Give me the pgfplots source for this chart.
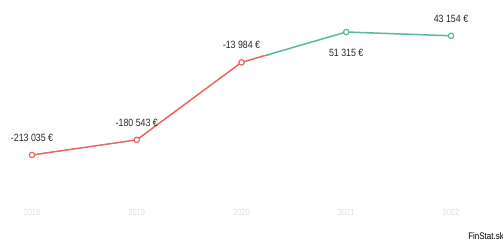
\documentclass[border=0pt]{standalone}
\usepackage{pgfplots}
\pgfplotsset{compat=1.18}
\usepackage{fontspec}
\setmainfont[FakeStretch=0.84]{Liberation Sans}
\definecolor{negred}{RGB}{228,104,94}
\definecolor{posgreen}{RGB}{88,186,148}
\definecolor{ticklight}{RGB}{222,222,222}
\begin{document}
\begin{tikzpicture}[x=1pt,y=1pt]
\path[use as bounding box] (0,0) rectangle (503,243);
\begin{axis}[
  at={(32pt,40pt)}, anchor=south west,
  scale only axis, width=419pt, height=198pt,
  xmin=2018, xmax=2022, ymin=-316235, ymax=109365,
  axis line style={draw=none}, clip=false,
  xtick={2018,2019,2020,2021,2022},
  xticklabels={2018,2019,2020,2021,2022},
  x tick label style={font=\fontsize{9}{10}\selectfont, text=ticklight, yshift=-3pt},
  ytick=\empty, major tick length=0pt,
  /pgf/number format/assume math mode=true,
  nodes near coords, point meta=explicit symbolic,
  every node near coord/.append style={font=\fontsize{10.5}{11}\selectfont, text=black!85, inner sep=1pt},
]
\begin{scope}
\clip (axis cs:2017.5,0) rectangle (axis cs:2022.5,-400000);
\addplot[negred, line width=1.5pt, mark=none, nodes near coords=\empty]
  coordinates {(2018,-213035) (2019,-180543) (2020,-13984) (2021,51315) (2022,43154)};
\end{scope}
\begin{scope}
\clip (axis cs:2017.5,0) rectangle (axis cs:2022.5,200000);
\addplot[posgreen, line width=1.5pt, mark=none, nodes near coords=\empty]
  coordinates {(2018,-213035) (2019,-180543) (2020,-13984) (2021,51315) (2022,43154)};
\end{scope}
\addplot[only marks, mark=*, mark size=2.7pt,
  mark options={fill=white, draw=negred, line width=1.2pt},
  nodes near coords style={anchor=south, yshift=12pt}]
  coordinates {(2018,-213035) [-213 035 €] (2019,-180543) [-180 543 €] (2020,-13984) [-13 984 €]};
\addplot[only marks, mark=*, mark size=2.7pt,
  mark options={fill=white, draw=posgreen, line width=1.2pt},
  nodes near coords style={anchor=south, yshift=12pt}]
  coordinates {(2022,43154) [43 154 €]};
\addplot[only marks, mark=*, mark size=2.7pt,
  mark options={fill=white, draw=posgreen, line width=1.2pt},
  nodes near coords style={anchor=north, yshift=-16pt}]
  coordinates {(2021,51315) [51 315 €]};
\end{axis}
\node[anchor=south east, font=\fontsize{9.5}{10}\selectfont, inner sep=0pt] at (504,3) {FinStat.sk};
\end{tikzpicture}
\end{document}
